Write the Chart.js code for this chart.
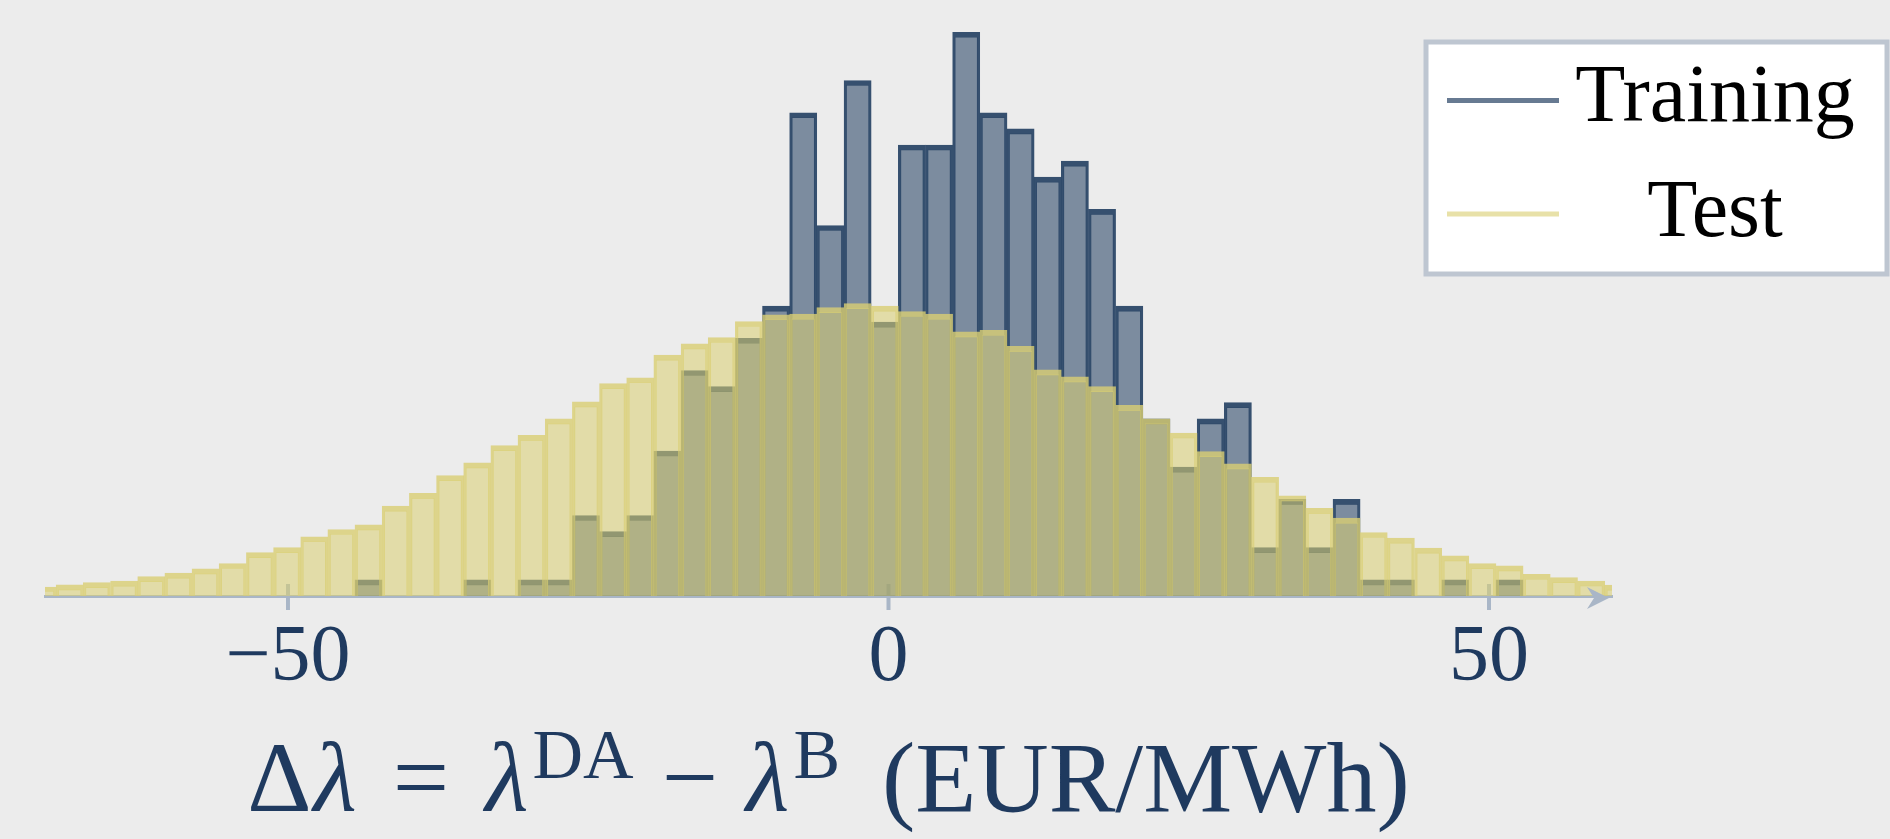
<!DOCTYPE html>
<html>
<head>
<meta charset="utf-8">
<title>Price difference histogram</title>
<script src="https://cdn.jsdelivr.net/npm/chart.js@4.4.1/dist/chart.umd.min.js"></script>
<style>
    html, body { margin: 0; padding: 0; background: #ececec; }
    #wrap { width: 1890px; height: 839px; position: relative; }
</style>
</head>
<body>
<div id="wrap"><canvas id="diffHistChart"></canvas></div>
<script>
// bin centres of the histogram (EUR/MWh)
const binCenters = [
    -70.43, -68.17, -65.91, -63.64, -61.38, -59.12, -56.86, -54.60, -52.33, -50.07,
    -47.81, -45.55, -43.29, -41.03, -38.76, -36.50, -34.24, -31.98, -29.72, -27.45,
    -25.19, -22.93, -20.67, -18.41, -16.14, -13.88, -11.62, -9.36, -7.10, -4.84,
    -2.57, -0.31, 1.95, 4.21, 6.47, 8.74, 11.00, 13.26, 15.52, 17.78,
    20.05, 22.31, 24.57, 26.83, 29.09, 31.35, 33.62, 35.88, 38.14, 40.40,
    42.66, 44.93, 47.19, 49.45, 51.71, 53.97, 56.24, 58.50, 60.76
];

const trainingCounts = [
    0, 0, 0, 0, 0, 0, 0, 0, 0, 0,
    0, 0, 1, 0, 0, 0, 1, 0, 1, 1,
    5, 4, 5, 9, 14, 13, 16, 18, 30, 23,
    32, 17, 28, 28, 35, 30, 29, 26, 27, 24,
    18, 11, 8, 11, 12, 3, 6, 3, 6, 1,
    1, 0, 1, 0, 1, 0, 0, 0, 0
];

const testCounts = [
    0.56, 0.69, 0.83, 0.92, 1.20, 1.42, 1.68, 2.02, 2.69, 3.00,
    3.68, 4.13, 4.42, 5.58, 6.37, 7.47, 8.26, 9.34, 9.97, 11.00,
    12.05, 13.18, 13.55, 14.95, 15.65, 16.05, 17.04, 17.46, 17.50, 17.90,
    18.15, 18.00, 17.66, 17.50, 16.40, 16.50, 15.50, 14.04, 13.60, 13.00,
    11.83, 11.00, 10.12, 8.96, 8.20, 7.37, 6.22, 5.44, 4.83, 3.94,
    3.59, 2.97, 2.49, 2.01, 1.87, 1.35, 1.14, 0.93, 0.68
];

const seriesLabels = ['Training', 'Test'];
const xTickStep = 50;

const navy = '#1f3a5f';
const axisGrey = '#a9b6c7';
const serif = '"Liberation Serif", "DejaVu Serif", serif';

// ticks that cross the axis line (drawn behind the bars)
const crossTicks = {
    id: 'crossTicks',
    beforeDatasetsDraw(chart) {
        const { ctx, chartArea } = chart;
        const xs = chart.scales.x;
        ctx.save();
        ctx.strokeStyle = axisGrey;
        ctx.lineWidth = 4;
        xs.ticks.forEach(t => {
            const px = xs.getPixelForValue(t.value);
            ctx.beginPath();
            ctx.moveTo(px, chartArea.bottom - 12);
            ctx.lineTo(px, chartArea.bottom + 14);
            ctx.stroke();
        });
        ctx.restore();
    }
};

// arrow head, axis title and legend box
const decorations = {
    id: 'decorations',
    afterDraw(chart) {
        const { ctx, chartArea } = chart;
        ctx.save();

        // arrow at the end of the x axis
        const ay = chartArea.bottom + 2;
        const ax = chartArea.right - 3;
        ctx.fillStyle = axisGrey;
        ctx.beginPath();
        ctx.moveTo(ax, ay);
        ctx.lineTo(ax - 22, ay - 11);
        ctx.lineTo(ax - 15, ay);
        ctx.lineTo(ax - 22, ay + 11);
        ctx.closePath();
        ctx.fill();

        // x axis title with superscripts, math-style spacing around operators
        const size = 100;
        const parts = [
            { t: 'Δ', it: false, sup: false, gap: 0 },
            { t: 'λ', it: true, sup: false, gap: 2 },
            { t: '=', it: false, sup: false, gap: 36 },
            { t: 'λ', it: true, sup: false, gap: 36 },
            { t: 'DA', it: false, sup: true, gap: 4 },
            { t: '−', it: false, sup: false, gap: 28 },
            { t: 'λ', it: true, sup: false, gap: 28 },
            { t: 'B', it: false, sup: true, gap: 4 },
            { t: '(EUR/MWh)', it: false, sup: false, gap: 42 }
        ];
        const fontOf = p => (p.it ? 'italic ' : '') + (p.sup ? Math.round(size * 0.7) : size) + 'px ' + serif;
        let total = 0;
        parts.forEach(p => { ctx.font = fontOf(p); p.w = ctx.measureText(p.t).width; total += p.w + p.gap; });
        let x = (chartArea.left + chartArea.right) / 2 - total / 2;
        const base = 811;
        ctx.fillStyle = navy;
        ctx.textBaseline = 'alphabetic';
        ctx.textAlign = 'left';
        parts.forEach(p => {
            ctx.font = fontOf(p);
            x += p.gap;
            ctx.fillText(p.t, x, p.sup ? base - 33 : base);
            x += p.w;
        });

        // legend
        ctx.fillStyle = '#ffffff';
        ctx.fillRect(1426, 42, 461, 232);
        ctx.strokeStyle = '#bec6d1';
        ctx.lineWidth = 5;
        ctx.strokeRect(1426, 42, 461, 232);
        const rows = [
            { y: 100.5, base: 121, color: 'rgba(38, 66, 100, 0.7)' },
            { y: 214, base: 236, color: 'rgba(218, 206, 115, 0.62)' }
        ];
        ctx.font = '82px ' + serif;
        ctx.textAlign = 'center';
        rows.forEach((r, i) => {
            ctx.strokeStyle = r.color;
            ctx.lineWidth = 5;
            ctx.beginPath();
            ctx.moveTo(1447, r.y);
            ctx.lineTo(1559, r.y);
            ctx.stroke();
            ctx.fillStyle = '#000000';
            ctx.fillText(chart.data.datasets[i].label, 1715, r.base);
        });
        ctx.restore();
    }
};

const ctx = document.getElementById('diffHistChart').getContext('2d');
const diffHistChart = new Chart(ctx, {
    type: 'bar',
    data: {
        datasets: [{
            label: seriesLabels[0],
            data: binCenters.map((c, i) => ({ x: c, y: trainingCounts[i] })),
            backgroundColor: 'rgba(38, 66, 100, 0.57)',
            borderColor: 'rgba(38, 66, 100, 0.92)',
            borderWidth: { top: 5, left: 2.5, right: 2.5, bottom: 0 },
            borderSkipped: 'start',
            grouped: false,
            barPercentage: 1,
            categoryPercentage: 1,
            clip: 0,
            order: 2
        }, {
            label: seriesLabels[1],
            data: binCenters.map((c, i) => ({ x: c, y: testCounts[i] })),
            backgroundColor: 'rgba(218, 206, 115, 0.56)',
            borderColor: 'rgba(218, 206, 115, 0.8)',
            borderWidth: { top: 5, left: 2.5, right: 2.5, bottom: 0 },
            borderSkipped: 'start',
            grouped: false,
            barPercentage: 1,
            categoryPercentage: 1,
            clip: 0,
            order: 1
        }]
    },
    options: {
        responsive: true,
        maintainAspectRatio: false,
        animation: false,
        devicePixelRatio: 1,
        layout: {
            padding: { left: 45, right: 278, top: 0, bottom: 0 }
        },
        plugins: {
            legend: { display: false },
            tooltip: { enabled: false }
        },
        scales: {
            x: {
                type: 'linear',
                min: -70.23,
                max: 60.24,
                offset: false,
                grid: { display: false, offset: false, drawTicks: false },
                border: { display: true, color: axisGrey, width: 3 },
                ticks: {
                    stepSize: xTickStep,
                    includeBounds: false,
                    padding: 15,
                    color: navy,
                    font: { family: serif, size: 80 },
                    callback: v => (v < 0 ? '−' + Math.abs(v) : String(v))
                },
                afterFit: scale => { scale.height = 243; }
            },
            y: {
                display: false,
                min: 0,
                max: 37.0
            }
        }
    },
    plugins: [crossTicks, decorations]
});
</script>
</body>
</html>
